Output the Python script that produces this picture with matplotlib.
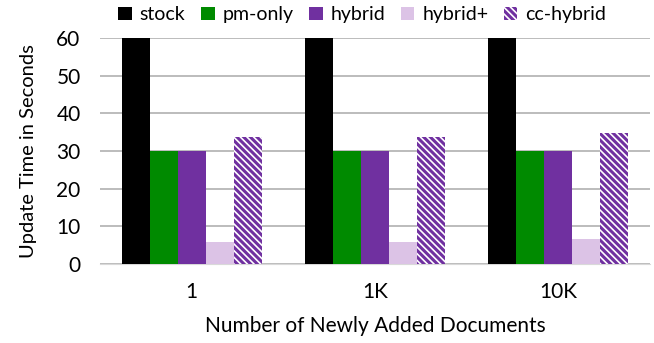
import numpy as np
import matplotlib.pyplot as plt

plt.rcParams['font.family'] = ['Lato', 'DejaVu Sans']
plt.rcParams['hatch.linewidth'] = 2.2

doc_counts = ['1', '1K', '10K']
series_names = ['stock', 'pm-only', 'hybrid', 'hybrid+', 'cc-hybrid']
stock = [75, 75, 75]          # runs past the 60 s axis limit
pm_only = [30, 30, 30]
hybrid = [30, 30, 30]
hybrid_plus = [5.8, 5.8, 6.7]
cc_hybrid = [33.7, 33.7, 34.7]

series = [stock, pm_only, hybrid, hybrid_plus, cc_hybrid]
colors = ['#000000', '#008a00', '#7030a0', '#dcc3e6', 'white']
hatches = [None, None, None, None, '\\\\\\\\\\']

fig = plt.figure(figsize=(6.54, 3.43), dpi=100)
ax = fig.add_axes([100 / 654, 1 - 264 / 343, 550 / 654, 226 / 343])

index = np.arange(len(doc_counts))
bar_width = 0.153
for i, (name, vals) in enumerate(zip(series_names, series)):
    offset = (i - 2) * bar_width
    if hatches[i]:
        ax.bar(index + offset, vals, bar_width, label=name, color='white',
               edgecolor='#7030a0', hatch=hatches[i], linewidth=0, zorder=3)
    else:
        ax.bar(index + offset, vals, bar_width, label=name, color=colors[i],
               linewidth=0, zorder=3)

ax.set_xlim(-0.5, 2.5)
ax.set_ylim(0, 60)
ax.set_yticks(range(0, 61, 10))
ax.set_xticks(index)
ax.set_xticklabels(doc_counts)
ax.yaxis.grid(True, color='#b0b0b0', linewidth=1.2)
ax.set_axisbelow(True)
for side in ['top', 'right', 'left']:
    ax.spines[side].set_visible(False)
ax.spines['bottom'].set_color('#d9d9d9')
ax.tick_params(axis='both', length=0, labelsize=15)
ax.tick_params(axis='y', pad=14)
ax.tick_params(axis='x', pad=13)

ax.set_ylabel('Update Time in Seconds', fontsize=14.5, labelpad=14)
ax.set_xlabel('Number of Newly Added Documents', fontsize=15, labelpad=10)

fig.legend(loc='center', bbox_to_anchor=(0.554, 0.957), ncol=5,
           frameon=False, fontsize=14, handlelength=0.7, handleheight=0.7,
           handletextpad=0.4, columnspacing=0.8)

fig.savefig('out.png', dpi=100)
